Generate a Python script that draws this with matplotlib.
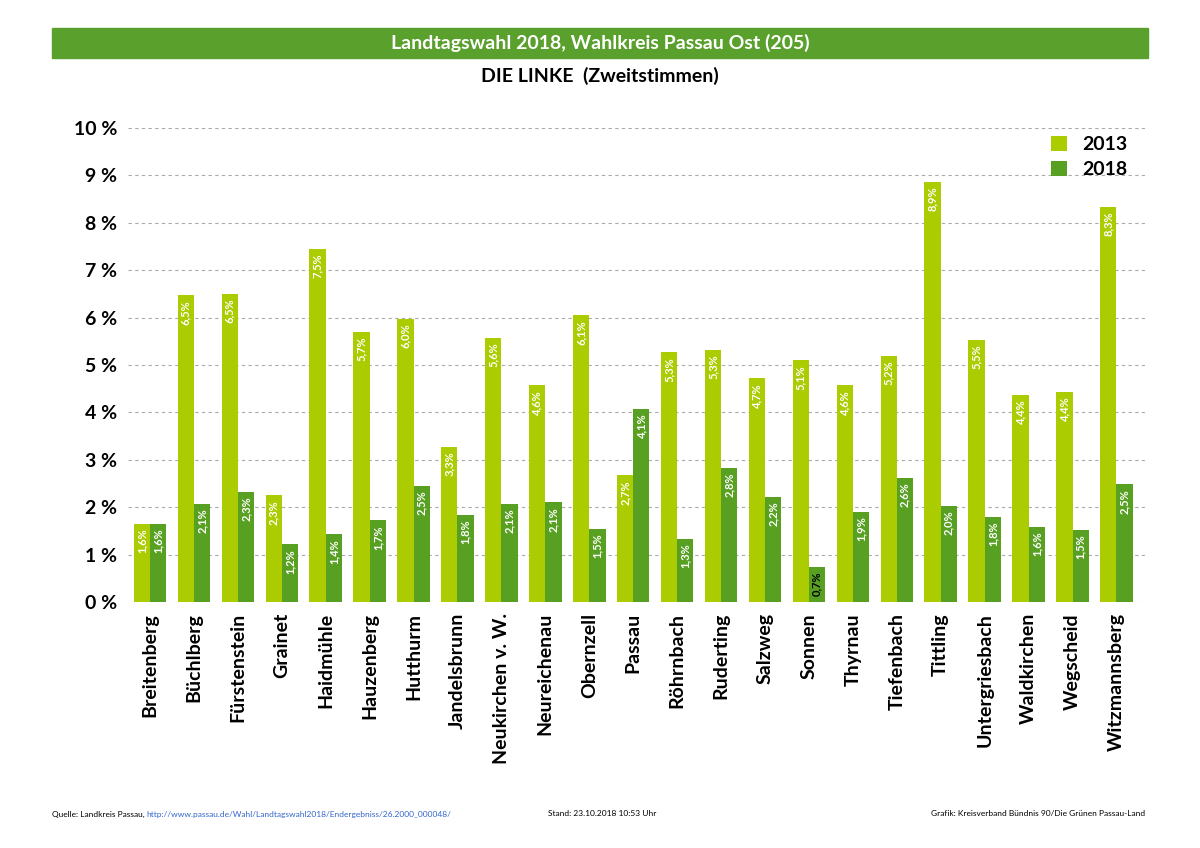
import matplotlib
matplotlib.use("Agg")
import matplotlib.pyplot as plt
import numpy as np
from matplotlib.patches import Rectangle

categories = ["Breitenberg","Büchlberg","Fürstenstein","Grainet","Haidmühle","Hauzenberg","Hutthurm",
              "Jandelsbrunn","Neukirchen v. W.","Neureichenau","Obernzell","Passau","Röhrnbach","Ruderting",
              "Salzweg","Sonnen","Thyrnau","Tiefenbach","Tittling","Untergriesbach","Waldkirchen","Wegscheid","Witzmannsberg"]
v2013 = [1.65,6.47,6.5,2.25,7.45,5.7,5.97,3.27,5.58,4.57,6.05,2.67,5.27,5.32,4.72,5.1,4.57,5.2,8.87,5.53,4.37,4.43,8.33]
v2018 = [1.65,2.07,2.33,1.22,1.43,1.72,2.45,1.83,2.07,2.1,1.55,4.07,1.33,2.83,2.22,0.73,1.9,2.62,2.03,1.8,1.58,1.52,2.48]
l2013 = ["1,6","6,5","6,5","2,3","7,5","5,7","6,0","3,3","5,6","4,6","6,1","2,7","5,3","5,3","4,7","5,1","4,6","5,2","8,9","5,5","4,4","4,4","8,3"]
l2018 = ["1,6","2,1","2,3","1,2","1,4","1,7","2,5","1,8","2,1","2,1","1,5","4,1","1,3","2,8","2,2","0,7","1,9","2,6","2,0","1,8","1,6","1,5","2,5"]
yticks = list(range(0, 11))

c13 = "#aacc00"
c18 = "#58a022"
plt.rcParams['font.family'] = ['Lato', 'DejaVu Sans']

fig = plt.figure(figsize=(12, 8.48), dpi=100)
fig.patches.append(Rectangle((52/1200, 1-58/848), 1096/1200, 30/848, transform=fig.transFigure,
                             color="#5aa02c", zorder=0))
fig.text(0.5, 1-43/848, "Landtagswahl 2018, Wahlkreis Passau Ost (205)", color="white",
         fontsize=14, fontweight="bold", ha="center", va="center")
fig.text(0.5, 1-76/848, "DIE LINKE  (Zweitstimmen)", fontsize=14, fontweight="bold", ha="center", va="center")

ax = fig.add_axes([128/1200, 1-602/848, 1017/1200, 474/848])
x = np.arange(len(categories))
w = 0.37
ax.bar(x - w/2, v2013, w, color=c13, label="2013", zorder=3)
ax.bar(x + w/2, v2018, w, color=c18, label="2018", zorder=3)
for xs, vals, labs in [(x - w/2, v2013, l2013), (x + w/2, v2018, l2018)]:
    for xi, v, l in zip(xs, vals, labs):
        if v < 1.0:
            ax.text(xi, v - 0.08, l + "%", rotation=90, ha="center", va="top", color="black",
                    fontsize=8, fontweight="bold", zorder=4)
        else:
            ax.text(xi, v - 0.1, l + "%", rotation=90, ha="center", va="top", color="white",
                    fontsize=8, fontweight="bold", zorder=4)
ax.set_ylim(0, 10)
ax.set_xlim(-0.5, len(categories) - 0.35)
ax.set_yticks(yticks)
ax.set_yticklabels([f"{t} %" for t in yticks], fontsize=14, fontweight="bold")
ax.set_xticks(x)
ax.set_xticklabels(categories, rotation=90, fontsize=14, fontweight="bold")
ax.tick_params(length=0, pad=8)
ax.yaxis.grid(True, linestyle=(0, (3, 3)), color="#aaaaaa", linewidth=0.8, zorder=0)
for s in ax.spines.values():
    s.set_visible(False)
ax.legend(loc="upper right", bbox_to_anchor=(1.0, 1.02), frameon=False,
          prop={'weight': 'bold', 'size': 14}, handlelength=0.8, handleheight=0.8, labelspacing=0.4)

fig.text(52/1200, 1-814/848, "Quelle: Landkreis Passau, ", fontsize=6, va="center")
fig.text(146/1200, 1-814/848, "http://www.passau.de/Wahl/Landtagswahl2018/Endergebniss/26.2000_000048/",
         fontsize=6, va="center", color="#3366cc")
fig.text(548/1200, 1-814/848, "Stand: 23.10.2018 10:53 Uhr", fontsize=6, va="center")
fig.text(1145/1200, 1-814/848, "Grafik: Kreisverband Bündnis 90/Die Grünen Passau-Land", fontsize=6, va="center", ha="right")
fig.savefig("out.png", dpi=100)
